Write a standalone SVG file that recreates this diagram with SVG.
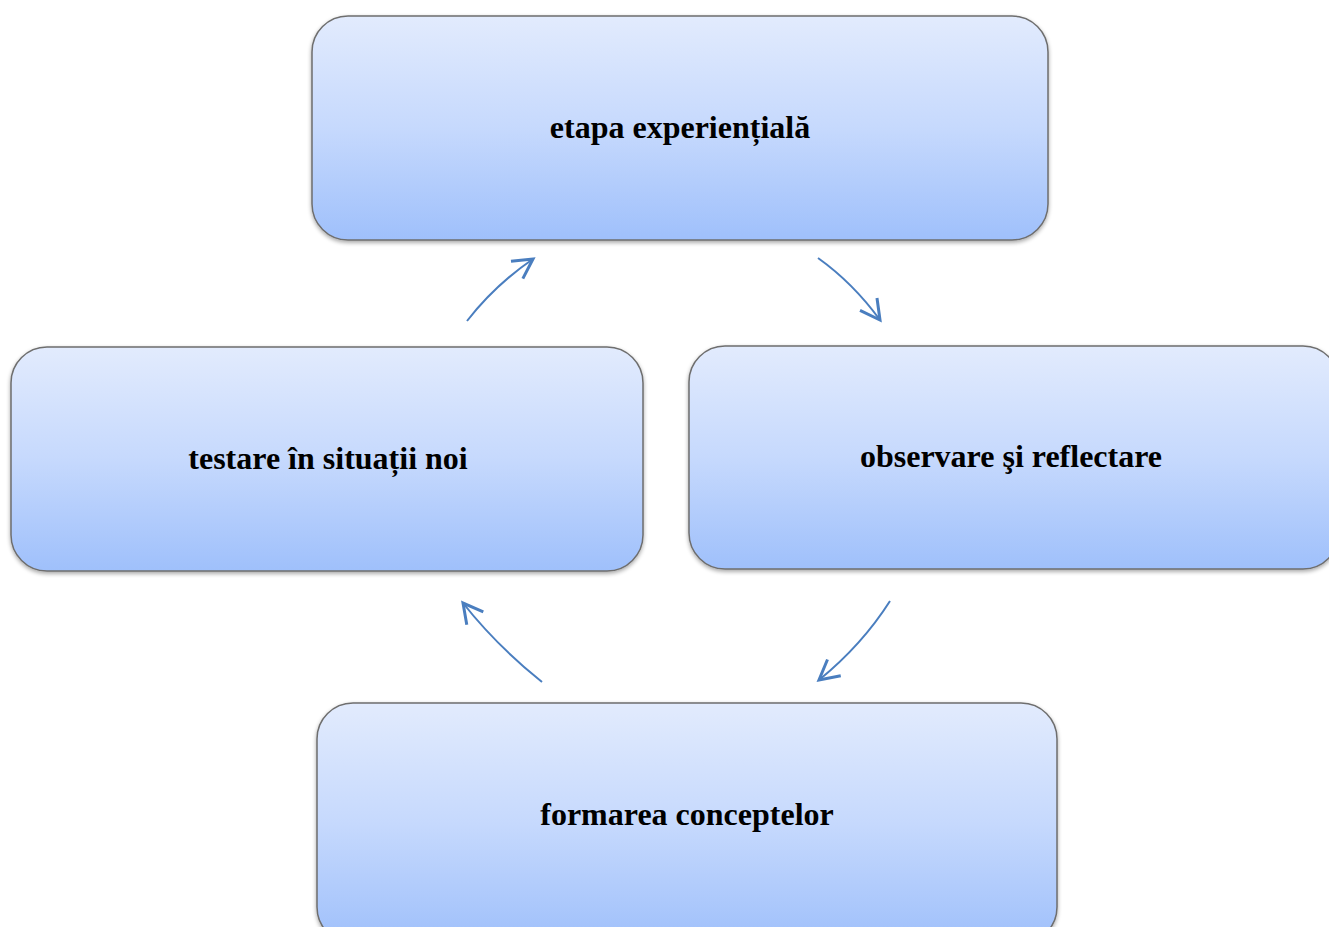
<svg xmlns="http://www.w3.org/2000/svg" width="1329" height="927" viewBox="0 0 1329 927">
<defs>
<linearGradient id="g" x1="0" y1="0" x2="0" y2="1">
<stop offset="0" stop-color="#e2ebfd"/>
<stop offset="0.5" stop-color="#c6d9fd"/>
<stop offset="1" stop-color="#9fc0fb"/>
</linearGradient>
<filter id="sh" x="-5%" y="-5%" width="110%" height="115%">
<feGaussianBlur in="SourceAlpha" stdDeviation="2"/>
<feOffset dx="0" dy="2"/>
<feComponentTransfer><feFuncA type="linear" slope="0.35"/></feComponentTransfer>
<feMerge><feMergeNode/><feMergeNode in="SourceGraphic"/></feMerge>
</filter>
<marker id="ah" markerUnits="userSpaceOnUse" markerWidth="30" markerHeight="30" refX="0" refY="0" viewBox="-16 -10 20 20" orient="auto">
<path d="M -13 -7 L 0 0 L -13 7" fill="none" stroke="#4a7ebf" stroke-width="2"/>
</marker>
<style>
.box{fill:url(#g);stroke:#6e6e6e;stroke-width:1.5;filter:url(#sh)}
.t{font-family:"Liberation Serif",serif;font-weight:bold;font-size:32px;fill:#000;text-anchor:middle}
.c{fill:none;stroke:#4a7ebf;stroke-width:2;marker-end:url(#ah)}
</style>
</defs>
<rect width="1329" height="927" fill="#fff"/>
<g id="n1"><rect class="box" x="312" y="16" width="736" height="224" rx="36"/><text class="t" x="680" y="138">etapa experiențială</text></g>
<g id="n2"><rect class="box" x="689" y="346" width="650" height="223" rx="36"/><text class="t" x="1011" y="467">observare şi reflectare</text></g>
<g id="n3"><rect class="box" x="317" y="703" width="740" height="240" rx="36"/><text class="t" x="687" y="825">formarea conceptelor</text></g>
<g id="n4"><rect class="box" x="11" y="347" width="632" height="224" rx="36"/><text class="t" x="328" y="469">testare în situații noi</text></g>
<g id="connectors">
<path class="c" d="M 467 321 Q 495 285 533 259"/>
<path class="c" d="M 818 258 Q 853 283 880 320"/>
<path class="c" d="M 890 601 Q 862 645 819 680"/>
<path class="c" d="M 542 682 Q 496 645 463 603"/>
</g>
</svg>
